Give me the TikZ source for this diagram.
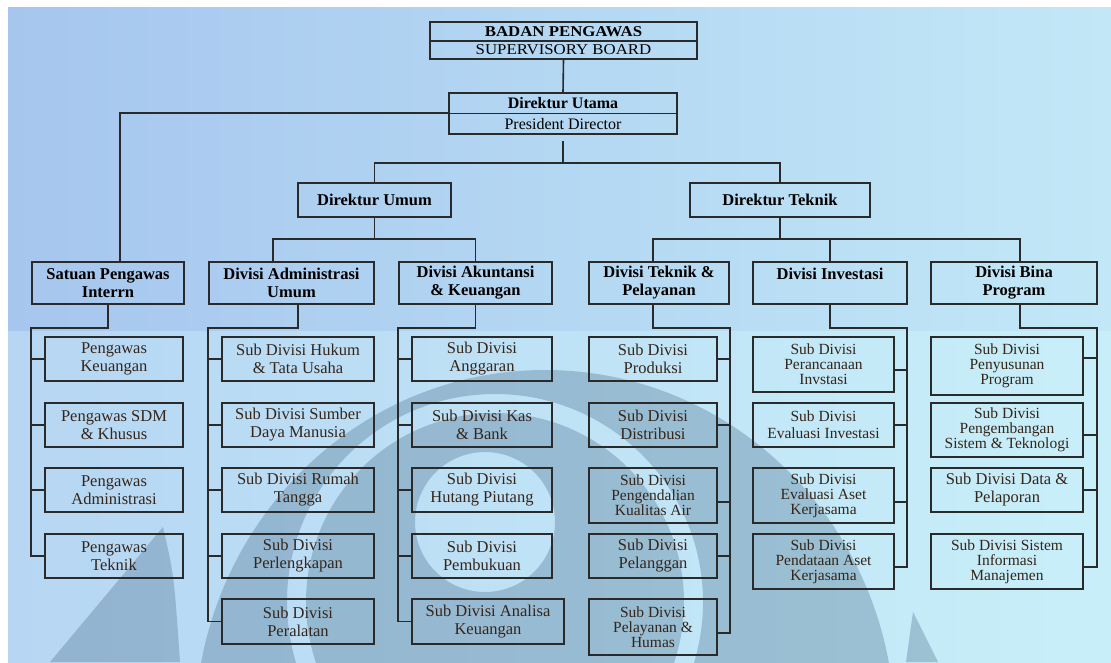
\documentclass[tikz,border=0pt]{standalone}
\usepackage{fontspec}
\setmainfont{Liberation Serif}
\usepackage{tikz}
\definecolor{bgtl}{HTML}{A6C6EE}
\definecolor{bgtr}{HTML}{C2E8F7}
\definecolor{bgbl}{HTML}{B6D6F3}
\definecolor{bgbr}{HTML}{C8EFF9}
\definecolor{wmark}{HTML}{4F7390}
\definecolor{linec}{HTML}{2A2A2A}
\definecolor{subtext}{HTML}{35251A}

\begin{document}
\begin{tikzpicture}[x=1pt,y=-1pt,
    box/.style={draw=linec, line width=1.6pt, inner sep=0pt, align=center},
    head/.style={box, text=black, font=\fontsize{16.5}{18}\selectfont\bfseries},
    topbox/.style={box, text=black, font=\fontsize{15}{16}\selectfont},
    sub/.style={box, text=subtext, font=\fontsize{16.5}{18}\selectfont},
    subiii/.style={box, text=subtext, font=\fontsize{15.5}{15}\selectfont},
    conn/.style={draw=linec, line width=1.6pt}]
                \useasboundingbox (0,0) rectangle (1111,662);
                \fill[white] (0,0) rectangle (1111,662);
                \shade[left color=bgtl, right color=bgtr] (8,7) rectangle (1111,331);
                \shade[left color=bgbl, right color=bgbr] (8,331) rectangle (1111,662);
                \begin{scope}
                \clip (8,331) rectangle (1111,662);
                \fill[wmark, opacity=0.35, even odd rule] (545,730) ellipse [x radius=350, y radius=360]
                    (495,602) circle [radius=208] (495,602) circle [radius=189] (485,522) circle [radius=70];
                \fill[wmark, opacity=0.35] (50,662) -- (163,527) .. controls (174,575) .. (180,662) -- cycle;
                \fill[wmark, opacity=0.35] (906,662) -- (913,612) -- (938,662) -- cycle;
                \end{scope}

                \node[topbox, minimum width=267pt, minimum height=19pt] (bpa) at (563.5,31.5) {\scalebox{1.12}[1]{\bfseries BADAN PENGAWAS}};
                \node[topbox, minimum width=267pt, minimum height=18pt] (bpb) at (563.5,50) {\scalebox{1.12}[1]{SUPERVISORY BOARD}};
                \node[topbox, font=\fontsize{16}{17}\selectfont, minimum width=228pt, minimum height=20.5pt] (dua) at (563,103.25) {\bfseries Direktur Utama};
                \node[topbox, font=\fontsize{16}{17}\selectfont, minimum width=228pt, minimum height=20.5pt] (dub) at (563,123.75) {President Director};
                \node[head, minimum width=153pt, minimum height=34pt] (dumum) at (374.5,200) {Direktur Umum};
                \node[head, minimum width=180pt, minimum height=34pt] (dtek) at (780,200) {Direktur Teknik};

                \node[head, minimum width=152pt, minimum height=42pt] (spi) at (108,283) {Satuan Pengawas\\Interrn};
                \node[head, minimum width=165pt, minimum height=42pt] (dau) at (291.5,283) {Divisi Administrasi\\Umum};
                \node[head, minimum width=153pt, minimum height=42pt] (dak) at (475.5,283) {Divisi Akuntansi\\\& Keuangan};
                \node[head, minimum width=140pt, minimum height=42pt] (dtp) at (659,283) {Divisi Teknik \&\\Pelayanan};
                \node[head, minimum width=154pt, minimum height=42pt] (dinv) at (830,283) {Divisi Investasi\\\phantom{X}};
                \node[head, minimum width=166pt, minimum height=42pt] (dbp) at (1014,283) {Divisi Bina\\Program};

                \node[sub, minimum width=138pt, minimum height=44pt] (sk1) at (114,359) {Pengawas\\Keuangan};
                \node[sub, minimum width=138pt, minimum height=44pt] (sk2) at (114,425) {Pengawas SDM\\\& Khusus};
                \node[sub, minimum width=138pt, minimum height=44pt] (sk3) at (114,490) {Pengawas\\Administrasi};
                \node[sub, minimum width=138pt, minimum height=44pt] (sk4) at (114,556) {Pengawas\\Teknik};

                \node[sub, minimum width=152pt, minimum height=44pt] (sa1) at (298,359) {Sub Divisi Hukum\\\& Tata Usaha};
                \node[sub, minimum width=152pt, minimum height=44pt] (sa2) at (298,425) {Sub Divisi Sumber\\Daya Manusia};
                \node[sub, minimum width=152pt, minimum height=44pt] (sa3) at (298,490) {Sub Divisi Rumah\\Tangga};
                \node[sub, minimum width=152pt, minimum height=44pt] (sa4) at (298,556) {Sub Divisi\\Perlengkapan};
                \node[sub, minimum width=152pt, minimum height=45pt] (sa5) at (298,621.5) {Sub Divisi\\Peralatan};

                \node[sub, minimum width=140pt, minimum height=44pt] (sb1) at (482,359) {Sub Divisi\\Anggaran};
                \node[sub, minimum width=140pt, minimum height=44pt] (sb2) at (482,425) {Sub Divisi Kas\\\& Bank};
                \node[sub, minimum width=140pt, minimum height=44pt] (sb3) at (482,490) {Sub Divisi\\Hutang Piutang};
                \node[sub, minimum width=140pt, minimum height=44pt] (sb4) at (482,556) {Sub Divisi\\Pembukuan};
                \node[sub, minimum width=152pt, minimum height=45pt] (sb5) at (488,621.5) {Sub Divisi Analisa\\Keuangan};

                \node[sub, minimum width=128pt, minimum height=44pt] (st1) at (653,359) {Sub Divisi\\Produksi};
                \node[sub, minimum width=128pt, minimum height=44pt] (st2) at (653,425) {Sub Divisi\\Distribusi};
                \node[subiii, minimum width=128pt, minimum height=55pt] (st3) at (653,495.5) {Sub Divisi\\Pengendalian\\Kualitas Air};
                \node[sub, minimum width=128pt, minimum height=44pt] (st4) at (653,556) {Sub Divisi\\Pelanggan};
                \node[subiii, minimum width=128pt, minimum height=56pt] (st5) at (653,627) {Sub Divisi\\Pelayanan \&\\Humas};

                \node[subiii, minimum width=141pt, minimum height=55pt] (si1) at (823.5,364.5) {Sub Divisi\\Perancanaan\\Invstasi};
                \node[subiii, font=\fontsize{15.5}{17}\selectfont, minimum width=141pt, minimum height=44pt] (si2) at (823.5,425) {Sub Divisi\\Evaluasi Investasi};
                \node[subiii, minimum width=141pt, minimum height=55pt] (si3) at (823.5,495.5) {Sub Divisi\\Evaluasi Aset\\Kerjasama};
                \node[subiii, minimum width=141pt, minimum height=55pt] (si4) at (823.5,561.5) {Sub Divisi\\Pendataan Aset\\Kerjasama};

                \node[subiii, minimum width=152pt, minimum height=58pt] (sp1) at (1007,366) {Sub Divisi\\Penyusunan\\Program};
                \node[subiii, minimum width=152pt, minimum height=54pt] (sp2) at (1007,430) {Sub Divisi\\Pengembangan\\Sistem \& Teknologi};
                \node[sub, minimum width=152pt, minimum height=44pt] (sp3) at (1007,490) {Sub Divisi Data \&\\Pelaporan};
                \node[subiii, minimum width=152pt, minimum height=55pt] (sp4) at (1007,561.5) {Sub Divisi Sistem\\Informasi\\Manajemen};

                \draw[conn] (bpb.south) -- (dua.north);
                \draw[conn] (dub.north west) -| ([xshift=12pt]spi.north);
                \draw[conn] ([yshift=-6pt]dub.south) -- ++(0,22) coordinate (j1);
                \draw[conn] (j1) -| (dumum.north) (j1) -| (dtek.north);
                \draw[conn] (dumum.south) -- ++(0,21) coordinate (j2);
                \draw[conn] (j2) -| ([xshift=-18.5pt]dau.north) (j2) -| (dak.north);
                \draw[conn] (dtek.south) -- ++(0,21) coordinate (j3);
                \draw[conn] (j3) -| ([xshift=-6pt]dtp.north) (j3) -| (dinv.north) (j3) -| ([xshift=6pt]dbp.north);

                \draw[conn] (spi.south) -- ++(0,23) -| ([xshift=-13pt]sk4.west) -- (sk4.west);
                \foreach \n in {sk1,sk2,sk3} \draw[conn] (\n.west) -- ++(-13,0);
                \draw[conn] ([xshift=6.5pt]dau.south) -- ++(0,23) -| ([xshift=-13pt]sa5.west) -- (sa5.west);
                \foreach \n in {sa1,sa2,sa3,sa4} \draw[conn] (\n.west) -- ++(-13,0);
                \draw[conn] (dak.south) -- ++(0,23) -| ([xshift=-13pt]sb5.west) -- (sb5.west);
                \foreach \n in {sb1,sb2,sb3,sb4} \draw[conn] (\n.west) -- ++(-13,0);
                \draw[conn] ([xshift=-6pt]dtp.south) -- ++(0,23) -| ([xshift=12pt,yshift=-6pt]st5.east) -- ([yshift=-6pt]st5.east);
                \foreach \n/\s in {st1/0,st2/0,st3/-6.5,st4/0} \draw[conn] ([yshift=\s pt]\n.east) -- ++(12,0);
                \draw[conn] (dinv.south) -- ++(0,23) -| ([xshift=12pt,yshift=-5.5pt]si4.east) -- ([yshift=-5.5pt]si4.east);
                \foreach \n/\s in {si1/-5.5,si2/0,si3/-6.5} \draw[conn] ([yshift=\s pt]\n.east) -- ++(12,0);
                \draw[conn] ([xshift=6pt]dbp.south) -- ++(0,23) -| ([xshift=13pt,yshift=-5.5pt]sp4.east) -- ([yshift=-5.5pt]sp4.east);
                \foreach \n/\s in {sp1/8,sp2/-5,sp3/0} \draw[conn] ([yshift=\s pt]\n.east) -- ++(13,0);
            \end{tikzpicture}
\end{document}
